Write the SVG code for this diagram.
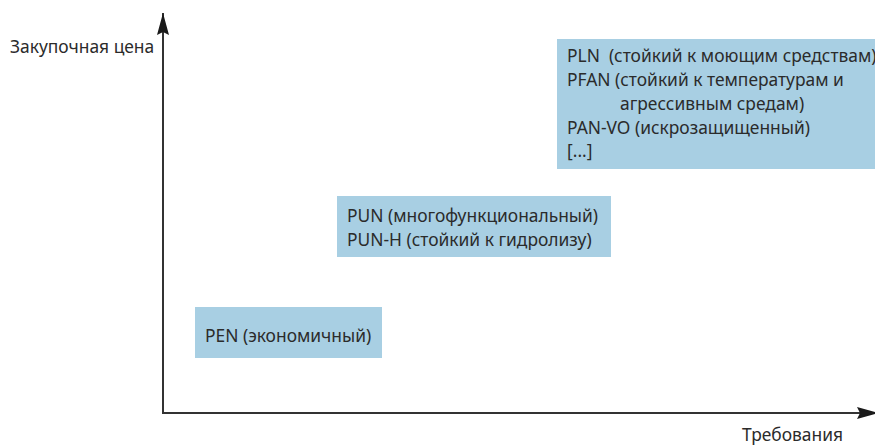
<svg xmlns="http://www.w3.org/2000/svg" width="875" height="446" viewBox="0 0 875 446">
<defs>
<style>
text{font-family:"Noto Sans","Open Sans",sans-serif;font-size:17.4px;fill:#2b2b2b}
.box{fill:#a8cfe3}
.axis{stroke:#333;stroke-width:2;fill:none}
</style>
<marker id="ah" viewBox="0 0 22 12" refX="22" refY="6" markerWidth="22" markerHeight="12" markerUnits="userSpaceOnUse" orient="auto">
<path d="M0,0 L22,6 L0,12 L3,6 Z" fill="#1a1a1a"/>
</marker>
</defs>
<rect width="875" height="446" fill="#fff"/>
<g id="connectors">
<path class="axis" d="M163,414 L163,13" marker-end="url(#ah)"/>
<path class="axis" d="M163,413 L879,413" marker-end="url(#ah)"/>
</g>
<g id="label-y"><text x="10" y="53">Закупочная цена</text></g>
<g id="label-x"><text x="742" y="441">Требования</text></g>
<g id="node-pen">
<rect class="box" x="195" y="307" width="187" height="51"/>
<text x="205" y="342">PEN (экономичный)</text>
</g>
<g id="node-pun">
<rect class="box" x="337" y="196" width="274" height="61"/>
<text x="347" y="222">PUN (многофункциональный)</text>
<text x="347" y="246">PUN-H (стойкий к гидролизу)</text>
</g>
<g id="node-pln">
<rect class="box" x="557" y="39" width="318" height="130"/>
<text x="567" y="62" xml:space="preserve">PLN  (стойкий к моющим средствам)</text>
<text x="567" y="86">PFAN (стойкий к температурам и</text>
<text x="620" y="110">агрессивным средам)</text>
<text x="567" y="134">PAN-VO (искрозащищенный)</text>
<text x="567" y="157">[...]</text>
</g>
</svg>
